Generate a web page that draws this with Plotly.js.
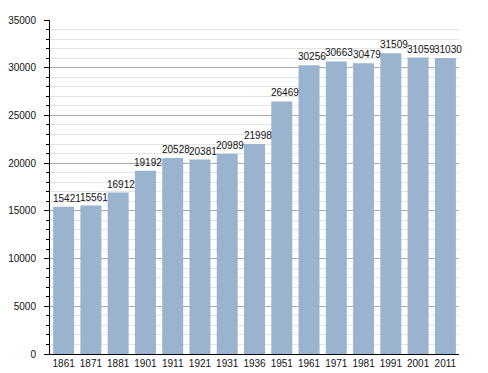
<!DOCTYPE html>
<html><head><meta charset="utf-8">
<script src="https://cdn.plot.ly/plotly-3.0.1.min.js"></script>
<style>html,body{margin:0;padding:0;background:#fff}#chart{width:488px;height:373px}</style>
</head><body><div id="chart"></div>
<script>
const years = ["1861","1871","1881","1901","1911","1921","1931","1936","1951","1961","1971","1981","1991","2001","2011"];
const population = [15421,15561,16912,19192,20528,20381,20989,21998,26469,30256,30663,30479,31509,31059,31030];
const yTicks = [0,5000,10000,15000,20000,25000,30000,35000];

const positions = years.map((_, i) => i);
const mkFont = () => ({family: "Liberation Sans, Arial, sans-serif", size: 10, color: "#111"});

const trace = {
  type: "bar", x: positions, y: population, width: 0.77,
  marker: {color: "#9ab3cf"},
  hoverinfo: "y"
};

const annotations = positions.map((p, i) => ({
  x: p, y: population[i], text: String(population[i]),
  xref: "x", yref: "y", showarrow: false,
  xanchor: "center", yanchor: "bottom", xshift: 3, yshift: 1,
  font: mkFont()
}));

const layout = {
  width: 488, height: 373,
  margin: {l: 50, r: 29, t: 20, b: 19, pad: 0},
  paper_bgcolor: "#fff", plot_bgcolor: "#fff",
  font: mkFont(),
  showlegend: false,
  xaxis: {
    type: "linear", range: [-0.5, years.length - 0.5],
    tickvals: positions, ticktext: years,
    showgrid: false, showline: true, linecolor: "#000", linewidth: 1,
    ticks: "", tickfont: mkFont(), zeroline: false
  },
  yaxis: {
    type: "linear", range: [0, 35000], tickvals: yTicks, ticktext: yTicks.map(String),
    showgrid: true, gridcolor: "#aaaaaa", gridwidth: 1,
    showline: true, linecolor: "#000", linewidth: 1,
    ticks: "outside", ticklen: 5, tickcolor: "#000", tickwidth: 1,
    ticklabelstandoff: 6,
    zeroline: false, tickfont: mkFont(),
    minor: {dtick: 1000, ticks: "outside", ticklen: 3, tickcolor: "#000", showgrid: true, gridcolor: "#e4e4e4", gridwidth: 1}
  },
  annotations: annotations
};

Plotly.newPlot("chart", [trace], layout, {displayModeBar: false});
</script></body></html>
